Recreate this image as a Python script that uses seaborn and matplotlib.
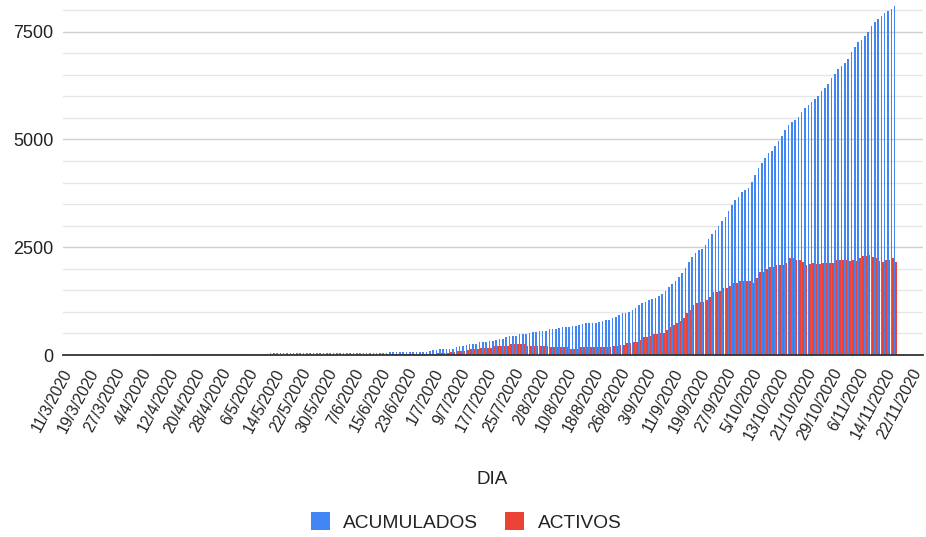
import matplotlib
matplotlib.use("Agg")
import matplotlib.pyplot as plt
from matplotlib.patches import Patch
from matplotlib.ticker import MultipleLocator
import pandas as pd
import seaborn as sns

# ---- data ----
acum_mar = [0, 0, 0, 0, 0, 0, 1, 1, 1, 2, 2, 2, 3, 4, 4, 5, 6, 6, 8, 8, 9]
acum_apr = [10, 10, 10, 11, 11, 12, 12, 12, 13, 13, 13, 14, 14, 14, 15, 15, 15, 15, 15, 16,
            16, 16, 16, 16, 17, 17, 17, 17, 17, 18]
acum_may = [18, 18, 18, 19, 19, 19, 20, 20, 20, 36, 37, 37, 38, 38, 38, 38, 39, 39, 39, 39,
            40, 40, 40, 40, 41, 41, 41, 41, 42, 42, 42]
acum_jun = [42, 43, 43, 43, 44, 44, 44, 45, 45, 45, 46, 46, 46, 47, 70, 72, 74, 75, 76, 77,
            77, 78, 78, 79, 80, 80, 82, 118, 124, 128]
acum_jul = [130, 132, 135, 140, 185, 200, 210, 230, 255, 255, 260, 295, 295, 300, 330, 335,
            340, 370, 375, 410, 440, 440, 445, 480, 485, 485, 520, 525, 530, 555, 560]
acum_aug = [560, 595, 600, 600, 635, 640, 640, 645, 665, 670, 705, 710, 740, 745, 745, 750,
            775, 780, 810, 815, 850, 890, 925, 965, 968, 1000, 1040, 1080, 1160, 1200, 1235]
acum_sep = [1275, 1310, 1315, 1375, 1410, 1490, 1570, 1645, 1720, 1800, 1910, 2030, 2160,
            2280, 2355, 2430, 2470, 2560, 2685, 2810, 2900, 3000, 3110, 3210, 3345, 3480,
            3585, 3675, 3775, 3830]
acum_oct = [3870, 4025, 4165, 4350, 4465, 4580, 4680, 4735, 4840, 4970, 5085, 5225, 5340,
            5395, 5455, 5520, 5630, 5740, 5800, 5870, 5930, 6010, 6115, 6200, 6290, 6425,
            6525, 6640, 6715, 6770, 6870]
acum_nov = [7025, 7140, 7255, 7310, 7390, 7505, 7640, 7720, 7800, 7870, 7940, 7990, 8030, 8090]

act_mar = [0, 0, 0, 0, 0, 0, 1, 1, 1, 2, 2, 2, 3, 4, 4, 5, 6, 6, 8, 8, 9]
act_apr = [10, 10, 10, 10, 9, 9, 9, 8, 8, 8, 7, 7, 6, 6, 6, 5, 5, 5, 5, 4, 4, 4, 4, 4, 4,
           3, 3, 3, 3, 3]
act_may = [3, 3, 3, 4, 4, 4, 5, 5, 5, 6, 6, 7, 7, 7, 6, 6, 5, 5, 5, 4, 4, 4, 4, 3, 3, 3, 3,
           3, 2, 2, 2]
act_jun = [2, 3, 3, 3, 3, 3, 4, 4, 4, 5, 5, 5, 6, 6, 10, 12, 14, 14, 15, 15, 14, 14, 13, 13,
           14, 15, 18, 30, 40, 45]
act_jul = [50, 55, 60, 70, 90, 100, 100, 105, 140, 140, 140, 170, 170, 170, 170, 210, 210,
           210, 210, 210, 250, 250, 250, 250, 250, 210, 210, 210, 210, 210, 210]
act_aug = [210, 180, 180, 180, 180, 180, 180, 150, 150, 150, 180, 180, 180, 180, 180, 180,
           180, 180, 180, 180, 210, 210, 230, 230, 270, 270, 295, 295, 350, 425, 425]
act_sep = [440, 480, 480, 500, 500, 580, 655, 695, 750, 790, 850, 965, 1040, 1160, 1200, 1220,
           1235, 1275, 1340, 1455, 1455, 1485, 1565, 1565, 1600, 1680, 1680, 1720, 1720, 1720]
act_oct = [1720, 1680, 1780, 1935, 1935, 1990, 2050, 2050, 2090, 2090, 2090, 2145, 2245, 2245,
           2205, 2200, 2160, 2085, 2110, 2125, 2100, 2100, 2125, 2125, 2125, 2145, 2200, 2215,
           2215, 2215, 2175]
act_nov = [2215, 2175, 2260, 2290, 2290, 2315, 2275, 2240, 2185, 2160, 2200, 2215, 2255, 2160]

tick_labels = ["11/3/2020", "19/3/2020", "27/3/2020", "4/4/2020", "12/4/2020", "20/4/2020",
               "28/4/2020", "6/5/2020", "14/5/2020", "22/5/2020", "30/5/2020", "7/6/2020",
               "15/6/2020", "23/6/2020", "1/7/2020", "9/7/2020", "17/7/2020", "25/7/2020",
               "2/8/2020", "10/8/2020", "18/8/2020", "26/8/2020", "3/9/2020", "11/9/2020",
               "19/9/2020", "27/9/2020", "5/10/2020", "13/10/2020", "21/10/2020",
               "29/10/2020", "6/11/2020", "14/11/2020", "22/11/2020"]

series_names = ["ACUMULADOS", "ACTIVOS"]
colors = ["#4285F4", "#EA4335"]

# ---- build table ----
acum = acum_mar + acum_apr + acum_may + acum_jun + acum_jul + acum_aug + acum_sep + acum_oct + acum_nov
act = act_mar + act_apr + act_may + act_jun + act_jul + act_aug + act_sep + act_oct + act_nov
all_days = pd.date_range("2020-03-11", "2020-11-22", freq="D")
day_labels = [f"{d.day}/{d.month}/{d.year}" for d in all_days]
n = len(acum)
df = pd.DataFrame({
    "DIA": day_labels[:n] * 2,
    "valor": acum + act,
    "serie": [series_names[0]] * n + [series_names[1]] * n,
})

# ---- plot ----
sns.set_style("white")
plt.rcParams["font.family"] = ["Liberation Sans", "DejaVu Sans"]
fig = plt.figure(figsize=(9.26, 5.37), dpi=100)
ax = fig.add_axes([63 / 926, 182 / 537, 860 / 926, 350 / 537])

sns.barplot(data=df, x="DIA", y="valor", hue="serie", order=day_labels,
            hue_order=series_names, palette=colors, width=0.96, dodge=True,
            errorbar=None, saturation=1, linewidth=0, ax=ax, legend=False)

ax.set_xlim(-2.7, 256.3)
ax.set_ylim(0, 8120)
ax.set_yticks([0, 2500, 5000, 7500])
ax.yaxis.set_minor_locator(MultipleLocator(500))
ax.yaxis.grid(True, which="major", color="#cfcfcf", linewidth=1.0)
ax.yaxis.grid(True, which="minor", color="#e6e6e6", linewidth=1.0)
ax.set_axisbelow(True)
for s in ["top", "right", "left"]:
    ax.spines[s].set_visible(False)
ax.spines["bottom"].set_color("#333333")
ax.spines["bottom"].set_linewidth(1.3)
ax.spines["bottom"].set_zorder(5)

ax.set_xticks(range(0, 257, 8))
ax.set_xticklabels(tick_labels, rotation=62, ha="right", va="baseline",
                   rotation_mode="anchor", fontsize=11.3, color="#222222")
ax.tick_params(axis="x", length=0, pad=12)
ax.tick_params(axis="y", which="both", length=0, pad=7, labelsize=13, labelcolor="#222222")
ax.set_xlabel("")
ax.set_ylabel("")

fig.text(492 / 926, 1 - 480 / 537, "DIA", ha="center", va="center", fontsize=13.5,
         color="#222222")

handles = [Patch(facecolor=c, edgecolor="none", label=l) for c, l in zip(colors, series_names)]
fig.legend(handles=handles, loc="center", bbox_to_anchor=(466 / 926, 1 - 522 / 537), ncol=2,
           frameon=False, fontsize=13.8, handlelength=1.0, handleheight=1.0,
           handletextpad=0.7, columnspacing=1.4, labelcolor="#222222")

fig.savefig("out.png", dpi=100)
